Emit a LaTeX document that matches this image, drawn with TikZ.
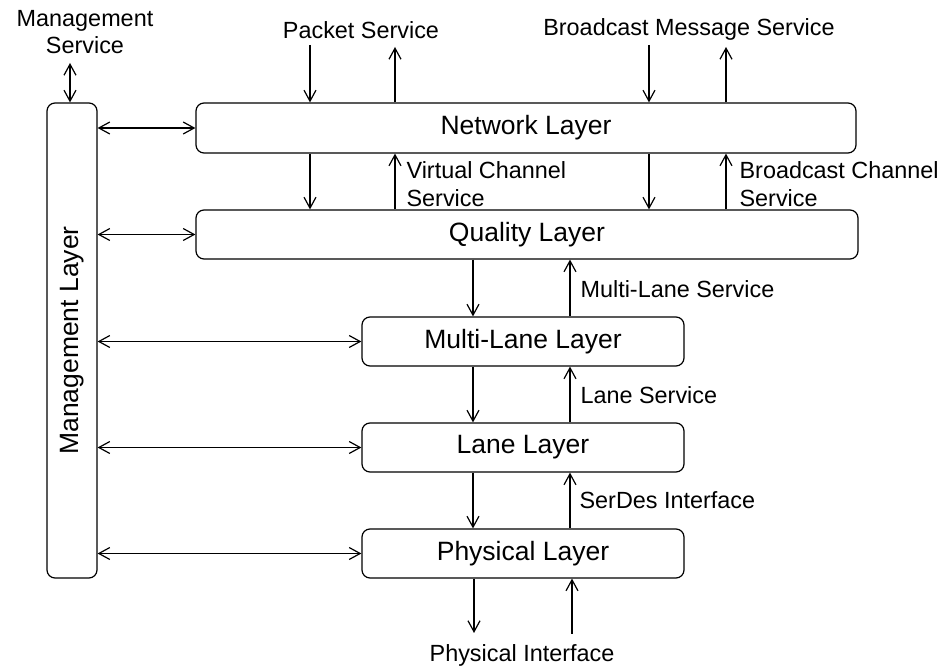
\documentclass[tikz,border=0pt]{standalone}
\usepackage{fontspec}
\setmainfont{Liberation Sans}
\usetikzlibrary{arrows.meta}

\tikzset{
  layer/.style={draw, rounded corners=4pt, line width=0.6pt, inner sep=0pt,
    font=\fontsize{13.25}{16}\selectfont},
  service/.style={inner sep=0pt, align=left, font=\fontsize{11.7}{13.8}\selectfont},
  >={Straight Barb[length=5.5pt,width=6pt]},
}

\begin{document}
\begin{tikzpicture}[x=0.5pt, y=-0.5pt, line width=0.6pt]

   \useasboundingbox (0,0) rectangle (950,668);

   \node (Management-Layer) at (72,340.5) [layer, minimum width=25pt, minimum height=237.5pt] {};
   \node at (Management-Layer.center) [rotate=90, font=\fontsize{13.25}{16}\selectfont] {Management Layer};

   \node (Network-Layer) at (526,128) [layer, minimum width=330pt, minimum height=25pt] {Network Layer};
   \node (Quality-Layer) at (527,234.5) [layer, minimum width=331pt, minimum height=24.5pt] {Quality Layer};
   \node (Multi-Lane-Layer) at (523,341.5) [layer, minimum width=161pt, minimum height=24.5pt] {Multi-Lane Layer};
   \node (Lane-Layer) at (523,447.5) [layer, minimum width=161pt, minimum height=24.5pt] {Lane Layer};
   \node (Physical-Layer) at (523,553.5) [layer, minimum width=161pt, minimum height=24.5pt] {Physical Layer};

   \node (Management-Service) at (85,32) [service, align=center] {Management\\Service};
   \node (Packet-Service) at (361,30) [service] {Packet Service};
   \node (Broadcast-Message-Service) at (689,29) [service] {Broadcast Message Service};
   \node (Virtual-Channel-Service) at (406,184) [service, anchor=west] {Virtual Channel\\Service};
   \node (Broadcast-Channel-Service) at (739,184) [service, anchor=west] {Broadcast Channel\\Service};
   \node (Multi-Lane-Service) at (580,289) [service, anchor=west] {Multi-Lane Service};
   \node (Lane-Service) at (580,395) [service, anchor=west] {Lane Service};
   \node (SerDes-Interface) at (579,500) [service, anchor=west] {SerDes Interface};
   \node (Physical-Interface) at (522,655) [service] {Physical Interface};

   \coordinate (mgmt-end) at (70,63);
   \coordinate (packet-in) at (310,45);
   \coordinate (packet-out) at (395,47);
   \coordinate (bcast-in) at (649,45);
   \coordinate (bcast-out) at (726,47);
   \coordinate (lane-down) at (473,0);
   \coordinate (lane-up) at (570,0);
   \coordinate (phys-out) at (474,633);
   \coordinate (phys-in) at (572,634);

   \draw [<->] (mgmt-end) -- (Management-Layer.north -| mgmt-end);
   \draw [->] (packet-in) -- (Network-Layer.north -| packet-in);
   \draw [->] (Network-Layer.north -| packet-out) -- (packet-out);
   \draw [->] (bcast-in) -- (Network-Layer.north -| bcast-in);
   \draw [->] (Network-Layer.north -| bcast-out) -- (bcast-out);

   \draw [->] (Network-Layer.south -| packet-in) -- (Quality-Layer.north -| packet-in);
   \draw [->] (Quality-Layer.north -| packet-out) -- (Network-Layer.south -| packet-out);
   \draw [->] (Network-Layer.south -| bcast-in) -- (Quality-Layer.north -| bcast-in);
   \draw [->] (Quality-Layer.north -| bcast-out) -- (Network-Layer.south -| bcast-out);

   \draw [->] (Quality-Layer.south -| lane-down) -- (Multi-Lane-Layer.north -| lane-down);
   \draw [->] (Multi-Lane-Layer.north -| lane-up) -- (Quality-Layer.south -| lane-up);
   \draw [->] (Multi-Lane-Layer.south -| lane-down) -- (Lane-Layer.north -| lane-down);
   \draw [->] (Lane-Layer.north -| lane-up) -- (Multi-Lane-Layer.south -| lane-up);
   \draw [->] (Lane-Layer.south -| lane-down) -- (Physical-Layer.north -| lane-down);
   \draw [->] (Physical-Layer.north -| lane-up) -- (Lane-Layer.south -| lane-up);

   \draw [->] (Physical-Layer.south -| phys-out) -- (phys-out);
   \draw [->] (phys-in) -- (Physical-Layer.south -| phys-in);

   \draw [<->] (Management-Layer.east |- Network-Layer.west) -- (Network-Layer.west);
   \draw [<->] (Management-Layer.east |- Quality-Layer.west) -- (Quality-Layer.west);
   \draw [<->] (Management-Layer.east |- Multi-Lane-Layer.west) -- (Multi-Lane-Layer.west);
   \draw [<->] (Management-Layer.east |- Lane-Layer.west) -- (Lane-Layer.west);
   \draw [<->] (Management-Layer.east |- Physical-Layer.west) -- (Physical-Layer.west);

\end{tikzpicture}
\end{document}
